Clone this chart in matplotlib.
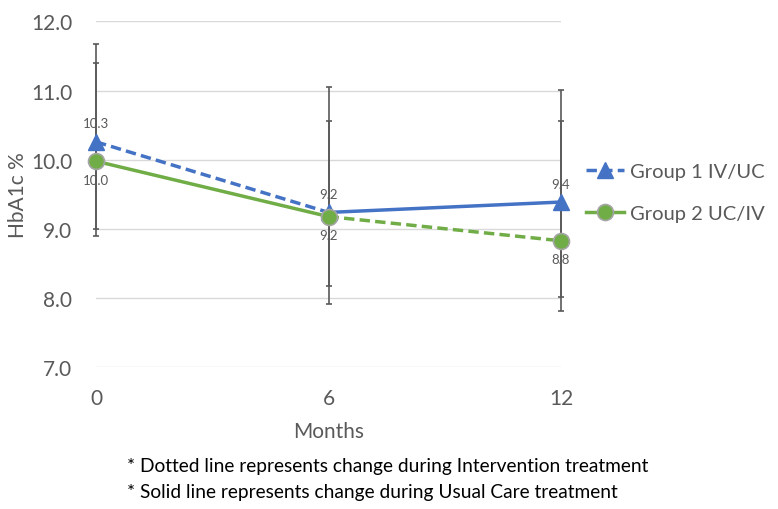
import matplotlib
matplotlib.use("Agg")
import matplotlib.pyplot as plt
from matplotlib.lines import Line2D

months = [0, 6, 12]
month_labels = ["0", "6", "12"]
group1 = [10.26, 9.24, 9.39]
group2 = [9.98, 9.18, 8.83]
group1_labels = ["10.3", "9.2", "9.4"]
group2_labels = ["10.0", "9.2", "8.8"]
# error bar ends (low / high)
group1_low = [8.90, 7.92, 7.82]
group1_high = [11.67, 10.56, 11.01]
group2_low = [9.00, 8.18, 8.02]
group2_high = [11.40, 11.05, 10.56]
yticks = [7.0, 8.0, 9.0, 10.0, 11.0, 12.0]
series_names = ["Group 1 IV/UC", "Group 2 UC/IV"]

blue = "#4472C4"
green = "#70AD47"
txt = "#595959"
plt.rcParams['font.family'] = ['Lato', 'DejaVu Sans']

fig = plt.figure(figsize=(7.78, 5.10), dpi=100)
ax = fig.add_axes([0.1234, 0.2775, 0.5977, 0.6786])
ax.set_xlim(0, 12)
ax.set_ylim(7, 12)
ax.set_yticks(yticks)
ax.set_yticklabels([f"{v:.1f}" for v in yticks])
ax.set_xticks(months)
ax.set_xticklabels(month_labels)
ax.grid(axis='y', color='#d9d9d9', lw=1.0)
ax.set_axisbelow(True)
for s in ax.spines.values():
    s.set_visible(False)
ax.tick_params(length=0, labelsize=15, colors=txt)
ax.tick_params(axis='x', pad=15)
ax.tick_params(axis='y', pad=17)

# error bars
for vals, lo, hi in [(group1, group1_low, group1_high), (group2, group2_low, group2_high)]:
    yerr = [[v - l for v, l in zip(vals, lo)], [h - v for v, h in zip(vals, hi)]]
    eb = ax.errorbar(months, vals, yerr=yerr, fmt='none', ecolor='#595959',
                     elinewidth=1.2, capsize=2.5, capthick=1.2, zorder=2)
    for child in eb.get_children():
        child.set_clip_on(False)

# group 1: dashed first half, solid second
ax.plot(months[0:2], group1[0:2], color=blue, lw=2.5, ls=(0, (3, 1.5)), zorder=3, clip_on=False)
ax.plot(months[1:3], group1[1:3], color=blue, lw=2.5, ls='-', zorder=3, clip_on=False)
ax.plot(months, group1, ls='none', marker='^', ms=12, color=blue, zorder=4, clip_on=False)
# group 2: solid first half, dashed second
ax.plot(months[0:2], group2[0:2], color=green, lw=2.5, ls='-', zorder=3, clip_on=False)
ax.plot(months[1:3], group2[1:3], color=green, lw=2.5, ls=(0, (3, 1.5)), zorder=3, clip_on=False)
ax.plot(months, group2, ls='none', marker='o', ms=11.5, color=green, mec='#a5a5a5', mew=1.2,
        zorder=4, clip_on=False)

for x, y, l in zip(months, group1, group1_labels):
    ax.annotate(l, (x, y), xytext=(0, 9), textcoords='offset points', ha='center', va='bottom',
                fontsize=9.5, color=txt, zorder=5)
for x, y, l in zip(months, group2, group2_labels):
    ax.annotate(l, (x, y), xytext=(0, -9), textcoords='offset points', ha='center', va='top',
                fontsize=9.5, color=txt, zorder=5)

ax.set_xlabel("Months", fontsize=15, color=txt, labelpad=9)
ax.set_ylabel("HbA1c %", fontsize=15, color=txt, labelpad=2)

handles = [
    Line2D([], [], color=blue, lw=2.5, ls=(0, (3, 1.5)), marker='^', ms=12),
    Line2D([], [], color=green, lw=2.5, ls='-', marker='o', ms=11.5, mec='#a5a5a5', mew=1.2),
]
fig.legend(handles, series_names, loc='center left', bbox_to_anchor=(0.73, 0.62),
           frameon=False, fontsize=14.5, labelcolor=txt, handlelength=1.9, handletextpad=0.3,
           labelspacing=1.25)

fig.text(127 / 778, 1 - 467 / 510, "* Dotted line represents change during Intervention treatment",
         fontsize=13.8, color='black', va='center', ha='left')
fig.text(127 / 778, 1 - 493 / 510, "* Solid line represents change during Usual Care treatment",
         fontsize=13.8, color='black', va='center', ha='left')

fig.savefig("out.png", dpi=100)
